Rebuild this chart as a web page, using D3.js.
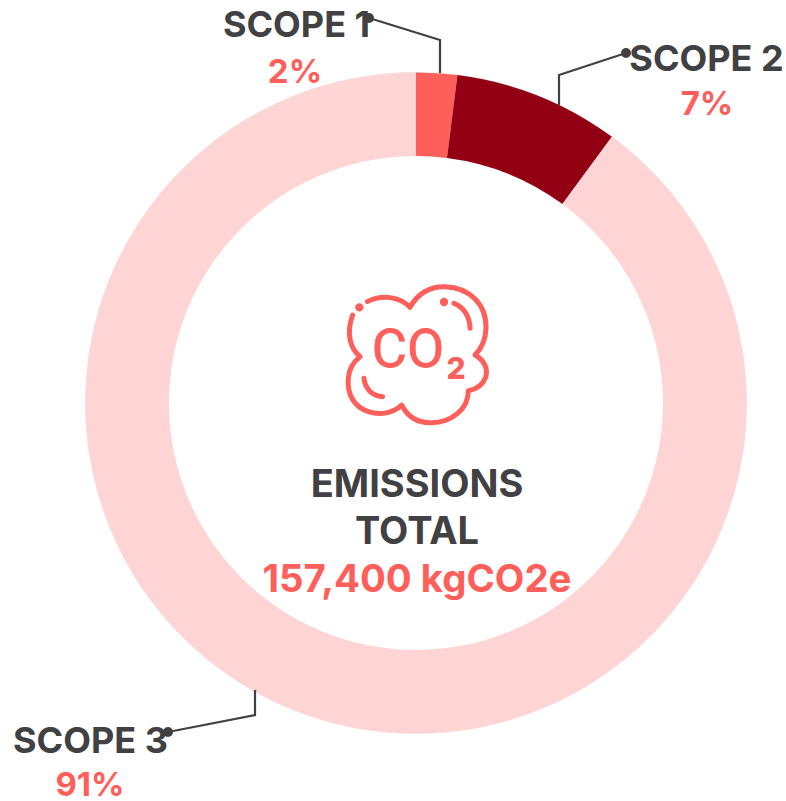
<!DOCTYPE html>
<html>
<head>
<meta charset="utf-8">
<script src="https://cdn.jsdelivr.net/npm/d3@7"></script>
<style>
html, body { margin: 0; padding: 0; background: #fff; }
text { font-family: Inter, sans-serif; font-weight: 700; }
</style>
</head>
<body>
<div id="chart"></div>
<script>
'use strict';

var categories = ['SCOPE 1', 'SCOPE 2', 'SCOPE 3'];
// share of the ring as drawn in the picture
var arcValues = [2.0, 8.1, 89.9];
// printed labels do not quite agree with the ring, kept as printed
var percentLabels = ['2%', '7%', '91%'];
var sliceColors = ['#ff5f5a', '#930013', '#fed5d4'];
var centerLines = ['EMISSIONS', 'TOTAL'];
var centerTotal = '157,400 kgCO2e';

var width = 786, height = 801;
var cx = 416, cy = 403;
var outerR = 330.5, innerR = 247;
var dark = '#414042', red = '#ff5f5a';

var svg = d3.select('#chart').append('svg')
	.attr('width', width)
	.attr('height', height)
	.style('display', 'block');

// faint grey edge round the ring
svg.append('circle')
	.attr('cx', cx)
	.attr('cy', cy)
	.attr('r', outerR)
	.attr('fill', 'none')
	.attr('stroke', '#e0d4d4')
	.attr('stroke-width', 0.6);

// RING
var pie = d3.pie().sort(null).value(function(d){ return d; });
var arc = d3.arc().innerRadius(innerR).outerRadius(outerR);

svg.append('g')
	.attr('transform', 'translate(' + cx + ',' + cy + ')')
	.selectAll('path')
	.data(pie(arcValues))
	.enter().append('path')
		.attr('d', arc)
		.attr('fill', function(d, i){ return sliceColors[i]; });

// LEADERS
var leaders = [
	{dot: [369, 18], corner: [440, 40], end: [440, 73]},
	{dot: [626, 53], corner: [559, 75], end: [559, 105]},
	{dot: [168, 732], corner: [255, 715], end: [255, 690]}
];
var leader = svg.append('g').attr('class', 'leaders');
var line = d3.line();

// SCOPE LABELS
var labelPos = [
	{x: 296.5, y: 37, py: 83, px: 295},
	{x: 706.5, y: 71, py: 115, px: 707},
	{x: 90.5, y: 753, py: 796, px: 90}
];
var labels = svg.append('g')
	.attr('text-anchor', 'middle');
labels.selectAll('text.name').data(categories).enter().append('text')
	.attr('class', 'name')
	.attr('x', function(d, i){ return labelPos[i].x; })
	.attr('y', function(d, i){ return labelPos[i].y; })
	.attr('font-size', 36)
	.attr('fill', dark)
	.text(function(d){ return d; });
labels.selectAll('text.pct').data(percentLabels).enter().append('text')
	.attr('class', 'pct')
	.attr('x', function(d, i){ return labelPos[i].px; })
	.attr('y', function(d, i){ return labelPos[i].py; })
	.attr('font-size', 33)
	.attr('fill', red)
	.text(function(d){ return d; });

leader.raise();
leader.selectAll('path').data(leaders).enter().append('path')
	.attr('d', function(d){ return line([d.dot, d.corner, d.end]); })
	.attr('fill', 'none')
	.attr('stroke', dark)
	.attr('stroke-width', 2.2);
leader.selectAll('circle').data(leaders).enter().append('circle')
	.attr('cx', function(d){ return d.dot[0]; })
	.attr('cy', function(d){ return d.dot[1]; })
	.attr('r', 5)
	.attr('fill', dark);

// CENTER TEXT
var center = svg.append('g')
	.attr('text-anchor', 'middle');
center.selectAll('text').data(centerLines).enter().append('text')
	.attr('x', 417)
	.attr('y', function(d, i){ return 497 + i * 47; })
	.attr('font-size', 38)
	.attr('fill', dark)
	.text(function(d){ return d; });
center.append('text')
	.attr('x', 417)
	.attr('y', 592)
	.attr('font-size', 38.4)
	.attr('fill', red)
	.text(centerTotal);

// CO2 ICON, drawn in 3x units off the zoomed crop
var icon = svg.append('g')
	.attr('transform', 'translate(330,270) scale(' + (1/3) + ')')
	.attr('fill', 'none')
	.attr('stroke', red)
	.attr('stroke-width', 15)
	.attr('stroke-linecap', 'round')
	.attr('stroke-linejoin', 'round');
icon.append('path').attr('d',
	'M112,95 C155,72 210,80 240,112 C262,72 300,48 345,50 C420,52 470,105 468,175 ' +
	'C467,205 455,235 435,255 C462,270 475,295 467,322 C458,345 438,358 415,362 ' +
	'C415,420 360,460 300,458 C262,458 232,438 215,405 C190,430 150,436 115,425 ' +
	'C75,412 50,375 55,325 C57,300 70,275 90,260 C60,235 48,190 68,135');
icon.append('path').attr('d', 'M372,100 C400,110 420,140 420,175');
icon.append('path').attr('d', 'M102,325 C105,355 125,378 158,380');
icon.selectAll('circle').data([[88, 112], [342, 96]]).enter().append('circle')
	.attr('cx', function(d){ return d[0]; })
	.attr('cy', function(d){ return d[1]; })
	.attr('r', 5)
	.attr('fill', red);

svg.append('text')
	.attr('x', 408)
	.attr('y', 367)
	.attr('text-anchor', 'middle')
	.attr('font-size', 54)
	.attr('fill', red)
	.attr('stroke', red)
	.attr('stroke-width', 0.8)
	.style('font-family', 'Roboto, sans-serif')
	.style('font-weight', 400)
	.text('CO');
svg.append('text')
	.attr('x', 456)
	.attr('y', 379)
	.attr('text-anchor', 'middle')
	.attr('font-size', 30)
	.attr('fill', red)
	.style('font-weight', 800)
	.text('2');
</script>
</body>
</html>
